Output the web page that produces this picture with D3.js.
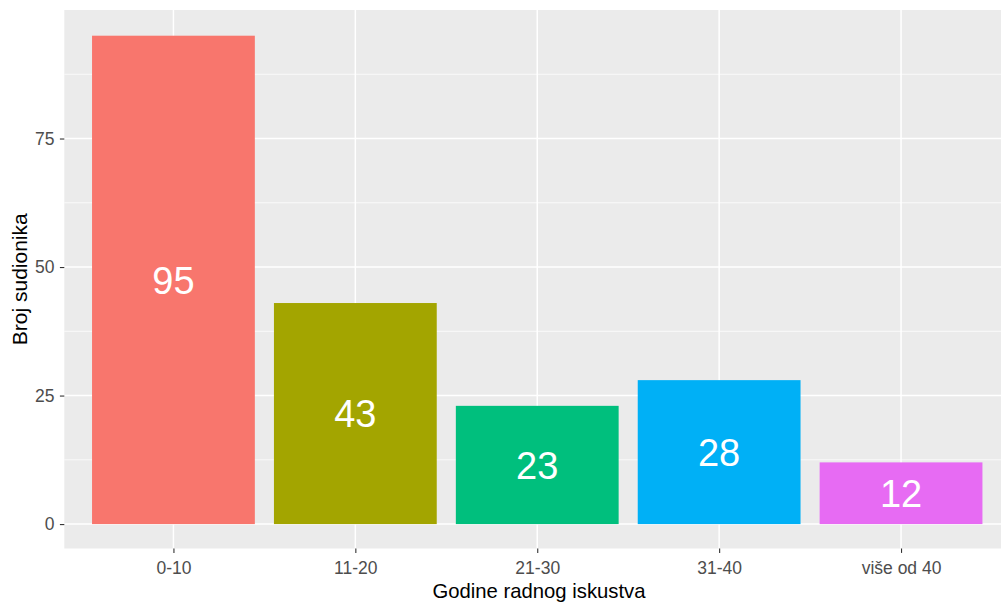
<!DOCTYPE html>
<html>
<head>
<meta charset="utf-8">
<script src="https://cdn.jsdelivr.net/npm/d3@7"></script>
<style>
html,body{margin:0;padding:0;background:#fff;}
svg{display:block;font-family:"Liberation Sans",Arial,sans-serif;}
</style>
</head>
<body>
<script>
const categories = ["0-10", "11-20", "21-30", "31-40", "više od 40"];
const values = [95, 43, 23, 28, 12];
const colors = ["#F8766D", "#A3A500", "#00BF7D", "#00B0F6", "#E76BF3"];
const yTicks = [0, 25, 50, 75];
const yMinor = [12.5, 37.5, 62.5, 87.5];
const xTitle = "Godine radnog iskustva";
const yTitle = "Broj sudionika";

const W = 1001, H = 602;
const panel = {left: 64.3, top: 10, bottom: 548.5};
const unit = 181.9;
const panelRight = panel.left + unit * 5.2;

const svg = d3.select("body").append("svg").attr("width", W).attr("height", H);

const x = d3.scalePoint().domain(categories).range([panel.left + 0.6*unit, panelRight - 0.6*unit]);
const y = d3.scaleLinear().domain([-4.75, 100]).range([panel.bottom, panel.top]);
const barW = unit * 0.895;

svg.append("rect").attr("x", panel.left).attr("y", panel.top)
  .attr("width", panelRight - panel.left).attr("height", panel.bottom - panel.top)
  .attr("fill", "#EBEBEB");

const g = svg.append("g");
g.selectAll(".minor").data(yMinor).enter().append("line")
  .attr("x1", panel.left).attr("x2", panelRight)
  .attr("y1", d => y(d)).attr("y2", d => y(d))
  .attr("stroke", "#fff").attr("stroke-width", 0.75);
g.selectAll(".majory").data(yTicks).enter().append("line")
  .attr("x1", panel.left).attr("x2", panelRight)
  .attr("y1", d => y(d)).attr("y2", d => y(d))
  .attr("stroke", "#fff").attr("stroke-width", 1.5);
g.selectAll(".majorx").data(categories).enter().append("line")
  .attr("y1", panel.top).attr("y2", panel.bottom)
  .attr("x1", d => x(d)).attr("x2", d => x(d))
  .attr("stroke", "#fff").attr("stroke-width", 1.5);

svg.selectAll(".bar").data(values).enter().append("rect")
  .attr("x", (d,i) => x(categories[i]) - barW/2)
  .attr("width", barW)
  .attr("y", d => y(d))
  .attr("height", d => y(0) - y(d))
  .attr("fill", (d,i) => colors[i]);

svg.selectAll(".lbl").data(values).enter().append("text")
  .attr("x", (d,i) => x(categories[i]))
  .attr("y", d => y(d/2))
  .attr("dy", "0.36em")
  .attr("text-anchor", "middle")
  .attr("fill", "#fff")
  .attr("font-size", "38px")
  .text(d => d);

// y axis
const yAxis = d3.axisLeft(y).tickValues(yTicks).tickSize(4.4).tickPadding(5.4);
const ya = svg.append("g").attr("transform", `translate(${panel.left},0)`).call(yAxis);
ya.select(".domain").remove();
ya.selectAll("line").attr("stroke", "#333333").attr("stroke-width", 1.1);
ya.selectAll("text").attr("fill", "#4D4D4D").attr("font-size", "17.5px").attr("font-family", "Liberation Sans, Arial, sans-serif");

// x axis
const xAxis = d3.axisBottom(x).tickSize(4.4).tickPadding(8.5);
const xa = svg.append("g").attr("transform", `translate(0,${panel.bottom})`).call(xAxis);
xa.select(".domain").remove();
xa.selectAll("line").attr("stroke", "#333333").attr("stroke-width", 1.1);
xa.selectAll("text").attr("fill", "#4D4D4D").attr("font-size", "17.5px").attr("font-family", "Liberation Sans, Arial, sans-serif");

svg.append("text").attr("x", 539).attr("y", 598)
  .attr("text-anchor", "middle").attr("font-size", "20.3px").attr("fill", "#000")
  .text(xTitle);

svg.append("text").attr("transform", `translate(27,${(panel.top+panel.bottom)/2}) rotate(-90)`)
  .attr("text-anchor", "middle").attr("font-size", "21px").attr("fill", "#000")
  .text(yTitle);
</script>
</body>
</html>
